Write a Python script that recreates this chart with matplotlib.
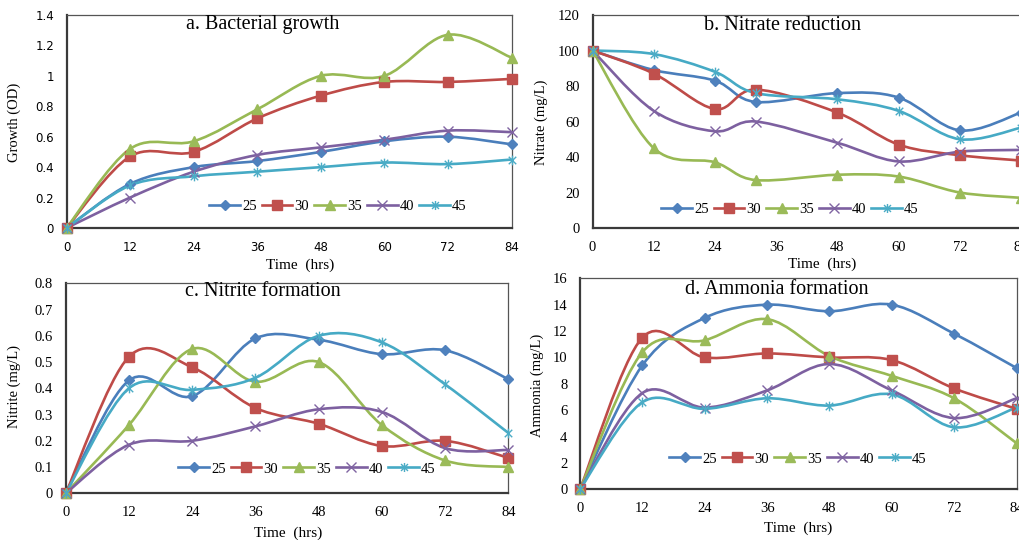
import numpy as np
import matplotlib
matplotlib.use("Agg")
import matplotlib.pyplot as plt
from matplotlib.path import Path
from matplotlib.patches import PathPatch
from matplotlib.lines import Line2D

plt.rcParams['font.family'] = ['Liberation Serif', 'DejaVu Serif']

series_names = ["25", "30", "35", "40", "45"]

# a. Bacterial growth
time_a = [0, 12, 24, 36, 48, 60, 72, 84]
growth_25 = [0, 0.29, 0.40, 0.44, 0.50, 0.57, 0.60, 0.55]
growth_30 = [0, 0.47, 0.50, 0.72, 0.87, 0.96, 0.96, 0.98]
growth_35 = [0, 0.52, 0.57, 0.78, 1.00, 1.00, 1.27, 1.12]
growth_40 = [0, 0.20, 0.37, 0.48, 0.53, 0.58, 0.64, 0.63]
growth_45 = [0, 0.28, 0.34, 0.37, 0.40, 0.43, 0.42, 0.45]

# b. Nitrate reduction
time_b = [0, 12, 24, 32, 48, 60, 72, 84]
nitrate_25 = [100, 89, 83, 71, 76, 73.5, 55, 65]
nitrate_30 = [100, 87, 67, 78, 65, 47, 41, 38]
nitrate_35 = [100, 45, 37, 27, 30, 29, 20, 17]
nitrate_40 = [100, 66, 54.5, 60, 48, 37.5, 43, 44]
nitrate_45 = [100, 98, 88, 76, 72.5, 66, 50, 56.5]

# c. Nitrite formation
time_c = [0, 12, 24, 36, 48, 60, 72, 84]
nitrite_25 = [0, 0.43, 0.37, 0.59, 0.585, 0.53, 0.545, 0.435]
nitrite_30 = [0, 0.52, 0.48, 0.325, 0.265, 0.18, 0.20, 0.135]
nitrite_35 = [0, 0.26, 0.55, 0.425, 0.50, 0.26, 0.125, 0.10]
nitrite_40 = [0, 0.185, 0.20, 0.255, 0.32, 0.31, 0.172, 0.165]
nitrite_45 = [0, 0.40, 0.394, 0.44, 0.60, 0.575, 0.415, 0.23]

# d. Ammonia formation
time_d = [0, 12, 24, 36, 48, 60, 72, 84]
ammonia_25 = [0, 9.4, 13.0, 14.0, 13.5, 14.0, 11.8, 9.2]
ammonia_30 = [0, 11.5, 10.0, 10.3, 10.0, 9.8, 7.65, 6.1]
ammonia_35 = [0, 10.4, 11.3, 12.9, 10.1, 8.6, 6.9, 3.5]
ammonia_40 = [0, 7.3, 6.2, 7.5, 9.5, 7.5, 5.4, 6.9]
ammonia_45 = [0, 6.6, 6.1, 6.9, 6.35, 7.2, 4.7, 6.2]

line_colors = ["#4A7EBB", "#BE4B48", "#98B954", "#7D60A0", "#46AAC5"]
mark_colors = ["#4F81BD", "#C0504D", "#9BBB59", "#8064A2", "#4BACC6"]

star = Path([(-1, -1), (1, 1), (-1, 1), (1, -1), (0, -1.3), (0, 1.3)],
            [Path.MOVETO, Path.LINETO, Path.MOVETO, Path.LINETO, Path.MOVETO, Path.LINETO])
markers = ["D", "s", "^", "x", star]
msizes = [5.5, 7.5, 7.5, 7, 7]


def smooth_path(x, y):
    # excel style smoothed line as bezier segments
    p = np.column_stack([x, y]).astype(float)
    n = len(p)
    verts = [p[0]]
    codes = [Path.MOVETO]
    for i in range(n - 1):
        p0 = p[i - 1] if i > 0 else p[i]
        p3 = p[i + 2] if i + 2 < n else p[i + 1]
        c1 = p[i] + (p[i + 1] - p0) / 6.0
        c2 = p[i + 1] - (p3 - p[i]) / 6.0
        verts += [c1, c2, p[i + 1]]
        codes += [Path.CURVE4] * 3
    return Path(verts, codes)


def px_rect(l, t, r, b):
    return [l / 1019, 1 - b / 540, (r - l) / 1019, (b - t) / 540]


def panel(rect, x, ys, ylim, yticks, ylabel, title, title_xy, leg_xy, ylabel_xy, xlabel_xy,
          tick_font, tick_size):
    ax = fig.add_axes(rect)
    for i, y in enumerate(ys):
        patch = PathPatch(smooth_path(x, y), facecolor="none", edgecolor=line_colors[i],
                          lw=1.9, zorder=2, clip_on=False)
        ax.add_patch(patch)
        mfc = "none" if i >= 3 else mark_colors[i]
        ax.plot(x, y, linestyle="none", marker=markers[i], ms=msizes[i], mfc=mfc,
                mec=mark_colors[i], mew=1.0, zorder=3, clip_on=False)
    ax.set_xlim(0, 84)
    ax.set_ylim(*ylim)
    ax.set_xticks([0, 12, 24, 36, 48, 60, 72, 84])
    ax.set_yticks(yticks)
    ax.set_yticklabels([("%g" % v) for v in yticks], fontfamily=tick_font, fontsize=tick_size)
    ax.set_xticklabels(["0", "12", "24", "36", "48", "60", "72", "84"],
                       fontfamily=tick_font, fontsize=tick_size)
    ax.tick_params(length=0, pad=9)
    for s in ["left", "bottom"]:
        ax.spines[s].set_linewidth(1.6)
        ax.spines[s].set_color("#3a3a3a")
    for s in ["top", "right"]:
        ax.spines[s].set_linewidth(0.9)
        ax.spines[s].set_color("#555555")
    fig.text(ylabel_xy[0] / 1019, 1 - ylabel_xy[1] / 540, ylabel, rotation=90, ha="center",
             va="center", fontsize=10.5)
    fig.text(xlabel_xy[0] / 1019, 1 - xlabel_xy[1] / 540, "Time  (hrs)", ha="center",
             va="center", fontsize=11)
    fig.text(title_xy[0] / 1019, 1 - title_xy[1] / 540, title, ha="center", va="center",
             fontsize=14.5)
    handles = [Line2D([], [], color=line_colors[i], lw=1.9, marker=markers[i],
                      ms=msizes[i] - 0.5, mfc=("none" if i >= 3 else mark_colors[i]),
                      mec=mark_colors[i]) for i in range(5)]
    fig.legend(handles, series_names, loc="center", ncol=5, frameon=False,
               bbox_to_anchor=(leg_xy[0] / 1019, 1 - leg_xy[1] / 540), fontsize=10.5,
               handlelength=2.1, handletextpad=0.15, columnspacing=0.35)
    return ax


fig = plt.figure(figsize=(10.19, 5.40), dpi=100)

panel(px_rect(66.5, 15, 511.5, 228), time_a,
      [growth_25, growth_30, growth_35, growth_40, growth_45],
      (0, 1.4), [0, 0.2, 0.4, 0.6, 0.8, 1, 1.2, 1.4], "Growth (OD)",
      "a. Bacterial growth", (263, 25), (338, 206), (14, 122), (300, 265),
      "DejaVu Sans", 8.5)

panel(px_rect(592.5, 15, 1021, 228), time_b,
      [nitrate_25, nitrate_30, nitrate_35, nitrate_40, nitrate_45],
      (0, 120), [0, 20, 40, 60, 80, 100, 120], "Nitrate (mg/L)",
      "b. Nitrate reduction", (782, 25), (790, 209), (541, 122), (822, 264),
      "Liberation Serif", 10.5)

panel(px_rect(65.7, 283.3, 508.3, 493.3), time_c,
      [nitrite_25, nitrite_30, nitrite_35, nitrite_40, nitrite_45],
      (0, 0.8), [0, 0.1, 0.2, 0.3, 0.4, 0.5, 0.6, 0.7, 0.8], "Nitrite (mg/L)",
      "c. Nitrite formation", (263, 292), (307, 469), (14, 387), (288, 533),
      "Liberation Serif", 10.5)

panel(px_rect(580, 278.3, 1016.5, 489.3), time_d,
      [ammonia_25, ammonia_30, ammonia_35, ammonia_40, ammonia_45],
      (0, 16), [0, 2, 4, 6, 8, 10, 12, 14, 16], "Ammonia (mg/L)",
      "d. Ammonia formation", (777, 289), (798, 459), (537, 385), (798, 528),
      "Liberation Serif", 10.5)

fig.savefig("out.png", dpi=100)
